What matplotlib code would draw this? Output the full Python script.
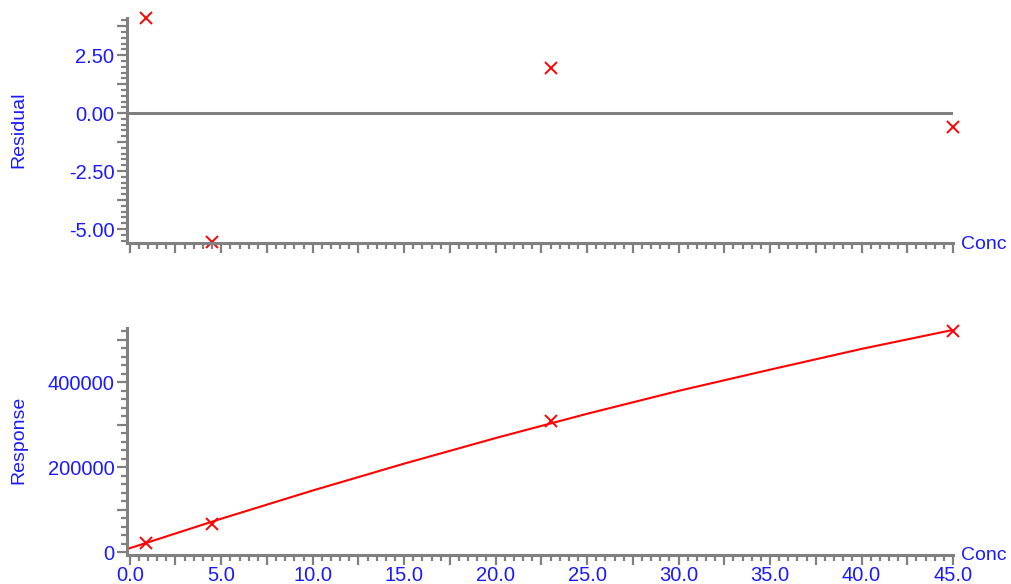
import numpy as np
import matplotlib.pyplot as plt
from matplotlib.ticker import MultipleLocator, FuncFormatter

# calibration points
conc = [0.9, 4.5, 23.0, 45.0]
residual = [4.09, -5.55, 1.96, -0.60]
response = [23000, 68000, 309000, 520500]

# fitted curve
curve_conc = [0, 5, 10, 15, 20, 25, 30, 35, 40, 45]
curve_resp = [9900, 79300, 145700, 208900, 269100, 326200, 380100, 430000, 478800, 523500]

GRAY = "#808080"
BLUE = "#1a1aff"
RED = "#ff0000"

plt.rcParams["font.family"] = ["Liberation Sans", "DejaVu Sans"]

fig = plt.figure(figsize=(10.11, 5.84), dpi=100)
W, H = 1011, 584
ax1 = fig.add_axes([127 / W, 1 - 243 / H, (953 - 127) / W, (243 - 18) / H])
ax2 = fig.add_axes([127 / W, 1 - 555 / H, (953 - 127) / W, (555 - 328) / H])


def style(ax):
    for s in ["top", "right"]:
        ax.spines[s].set_visible(False)
    for s in ["left", "bottom"]:
        ax.spines[s].set_color(GRAY)
        ax.spines[s].set_linewidth(2.2)
    ax.tick_params(which="major", length=7.5, width=1.6, color=GRAY,
                   labelcolor=BLUE, labelsize=14.5, pad=1.5)
    ax.tick_params(which="minor", length=4.5, width=1.6, color=GRAY)
    ax.tick_params(axis="x", which="major", pad=0.2)
    ax.xaxis.set_major_locator(MultipleLocator(2.5))
    ax.xaxis.set_minor_locator(MultipleLocator(0.5))
    ax.set_xlim(-0.15, 45)


def every(step, fmt):
    def f(v, pos):
        if abs(v / step - round(v / step)) < 1e-6:
            return fmt.format(v)
        return ""
    return FuncFormatter(f)


# residual panel
style(ax1)
ax1.axhline(0, color=GRAY, lw=2.2)
ax1.plot(conc, residual, "x", color=RED, ms=9, mew=1.4, clip_on=False)
ax1.set_ylim(-5.6, 4.1)
ax1.yaxis.set_major_locator(MultipleLocator(1.25))
ax1.yaxis.set_minor_locator(MultipleLocator(0.25))
ax1.yaxis.set_major_formatter(every(2.5, "{:.2f}"))
ax1.xaxis.set_major_formatter(FuncFormatter(lambda v, p: ""))
fig.text(19 / W, 1 - 130 / H, "Residual", color=BLUE, fontsize=14,
         rotation=90, ha="center", va="center")
ax1.text(1.01, -0.005, "Conc", transform=ax1.transAxes, color=BLUE,
         fontsize=14, ha="left", va="center")

# response panel
style(ax2)
ax2.plot(curve_conc, curve_resp, color=RED, lw=1.5)
ax2.plot(conc, response, "x", color=RED, ms=9, mew=1.4, clip_on=False)
ax2.set_ylim(-6000, 528000)
ax2.yaxis.set_major_locator(MultipleLocator(100000))
ax2.yaxis.set_minor_locator(MultipleLocator(20000))
ax2.yaxis.set_major_formatter(every(200000, "{:.0f}"))
ax2.xaxis.set_major_formatter(every(5, "{:.1f}"))
fig.text(19 / W, 1 - 440 / H, "Response", color=BLUE, fontsize=14,
         rotation=90, ha="center", va="center")
ax2.text(1.01, 0.0, "Conc", transform=ax2.transAxes, color=BLUE,
         fontsize=14, ha="left", va="center")

fig.savefig("out.png", dpi=100)
